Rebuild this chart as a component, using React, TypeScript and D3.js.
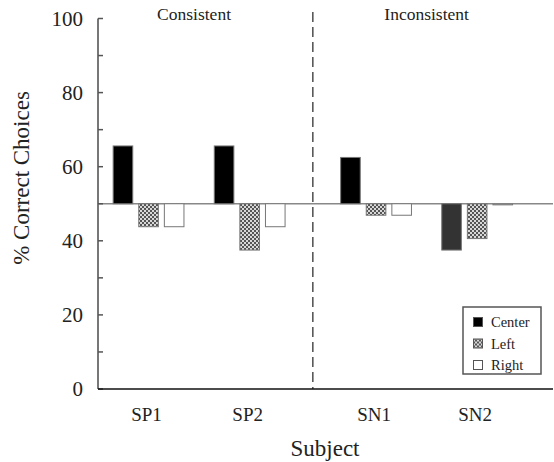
import React, { useEffect, useRef } from 'react';
import * as d3 from 'd3';

// subjects and their x positions (gap between the two conditions)
const subjects = ['SP1', 'SP2', 'SN1', 'SN2'];
const subjectPos = [1, 2, 3.25, 4.25];
const series = ['Center', 'Left', 'Right'];
const centerValues = [65.6, 65.6, 62.5, 37.5];
const leftValues = [43.8, 37.5, 46.9, 40.6];
const rightValues = [43.8, 43.8, 46.9, 49.7];
const yTicks = [0, 20, 40, 60, 80, 100];
const yMinorTicks = [10, 30, 50, 70, 90];
const conditions = ['Consistent', 'Inconsistent'];
const conditionPos = [1.45, 3.75];
const dividerPos = 2.625;
const chance = 50;

const FONT = "'Liberation Serif', 'Times New Roman', serif";

export default function App() {
  const svgRef = useRef<SVGSVGElement>(null);

  useEffect(() => {
    const svg = d3.select(svgRef.current);
    svg.selectAll('*').remove();

    const width = 554;
    const height = 462;
    svg.attr('width', width).attr('height', height).style('font-family', FONT);

    const defs = svg.append('defs');
    const pat = defs.append('pattern')
      .attr('id', 'checker')
      .attr('patternUnits', 'userSpaceOnUse')
      .attr('width', 4)
      .attr('height', 4);
    pat.append('rect').attr('width', 4).attr('height', 4).attr('fill', '#d8d8d8');
    pat.append('rect').attr('width', 2).attr('height', 2).attr('fill', '#555');
    pat.append('rect').attr('x', 2).attr('y', 2).attr('width', 2).attr('height', 2).attr('fill', '#555');

    const x = d3.scaleLinear().domain([0.5, 5.0]).range([98, 553]);
    const y = d3.scaleLinear().domain([0, 100]).range([389, 18.5]);

    const barW = 19.6;
    const step = 25.6;

    const fills = ['#000', 'url(#checker)', '#fff'];
    const allValues = [centerValues, leftValues, rightValues];

    // chance line
    svg.append('line')
      .attr('x1', x(0.5)).attr('x2', x(5.0))
      .attr('y1', y(chance)).attr('y2', y(chance))
      .attr('stroke', '#888').attr('stroke-width', 1.5);

    // bars
    allValues.forEach((vals, si) => {
      svg.append('g')
        .selectAll('rect')
        .data(vals)
        .enter()
        .append('rect')
        .attr('x', (_, i) => x(subjectPos[i]) + (si - 1) * step - barW / 2)
        .attr('y', (d) => y(Math.max(d, chance)))
        .attr('width', barW)
        .attr('height', (d) => Math.abs(y(d) - y(chance)))
        .attr('fill', (_, i) => (si === 0 && i === 3 ? '#333' : fills[si]))
        .attr('stroke', '#777')
        .attr('stroke-width', 1);
    });

    // divider
    svg.append('line')
      .attr('x1', x(dividerPos)).attr('x2', x(dividerPos))
      .attr('y1', 12).attr('y2', y(0))
      .attr('stroke', '#222').attr('stroke-width', 1.2)
      .attr('stroke-dasharray', '10,5');

    // y axis
    svg.append('line')
      .attr('x1', x(0.5)).attr('x2', x(0.5))
      .attr('y1', y(100)).attr('y2', y(0))
      .attr('stroke', '#777').attr('stroke-width', 2);
    svg.append('g').selectAll('line')
      .data([...yTicks, ...yMinorTicks])
      .enter().append('line')
      .attr('x1', x(0.5)).attr('x2', x(0.5) + 5)
      .attr('y1', (d) => y(d)).attr('y2', (d) => y(d))
      .attr('stroke', '#555').attr('stroke-width', 1.5);
    svg.append('g').selectAll('text')
      .data(yTicks)
      .enter().append('text')
      .attr('x', 83)
      .attr('y', (d) => y(d) + 7)
      .attr('text-anchor', 'end')
      .attr('font-size', 21)
      .attr('fill', '#222')
      .text((d) => d);

    // x axis
    svg.append('line')
      .attr('x1', x(0.5)).attr('x2', x(5.0))
      .attr('y1', y(0)).attr('y2', y(0))
      .attr('stroke', '#111').attr('stroke-width', 1.5);
    svg.append('g').selectAll('text')
      .data(subjects)
      .enter().append('text')
      .attr('x', (_, i) => x(subjectPos[i]) - 2)
      .attr('y', 421)
      .attr('text-anchor', 'middle')
      .attr('font-size', 19)
      .attr('fill', '#222')
      .text((d) => d);

    // condition labels
    svg.append('g').selectAll('text')
      .data(conditions)
      .enter().append('text')
      .attr('x', (_, i) => x(conditionPos[i]))
      .attr('y', 20)
      .attr('text-anchor', 'middle')
      .attr('font-size', 17.5)
      .attr('fill', '#222')
      .text((d) => d);

    // axis titles
    svg.append('text')
      .attr('x', 325).attr('y', 456)
      .attr('text-anchor', 'middle')
      .attr('font-size', 23)
      .attr('fill', '#222')
      .text('Subject');
    svg.append('text')
      .attr('transform', 'translate(29,178) rotate(-90)')
      .attr('text-anchor', 'middle')
      .attr('font-size', 23)
      .attr('fill', '#222')
      .text('% Correct Choices');

    // legend
    const lg = svg.append('g').attr('transform', 'translate(463,307)');
    lg.append('rect')
      .attr('width', 78).attr('height', 67)
      .attr('fill', '#fff').attr('stroke', '#555').attr('stroke-width', 1.5);
    const rows = lg.selectAll('g.row')
      .data(series)
      .enter().append('g')
      .attr('class', 'row')
      .attr('transform', (_, i) => `translate(0,${15 + i * 21.5})`);
    rows.append('rect')
      .attr('x', 10.5).attr('y', -4.5)
      .attr('width', 9).attr('height', 9)
      .attr('fill', (_, i) => fills[i])
      .attr('stroke', '#555').attr('stroke-width', 1);
    rows.append('text')
      .attr('x', 28).attr('y', 5)
      .attr('font-size', 14.5)
      .attr('fill', '#222')
      .text((d) => d);
  }, []);

  return <svg ref={svgRef} style={{ position: 'absolute', left: 0, top: 0 }}></svg>;
}
